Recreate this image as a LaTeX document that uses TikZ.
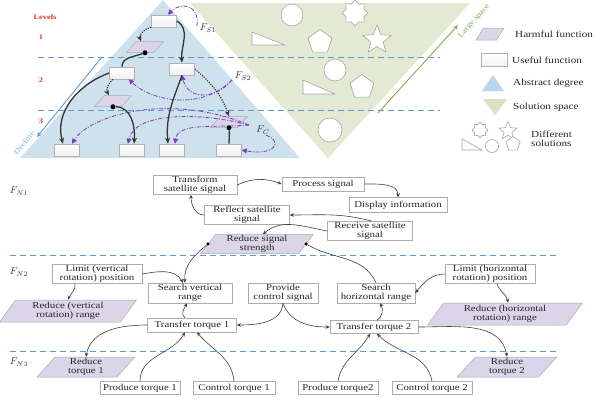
\documentclass[tikz,border=0pt]{standalone}
\usepackage{fontspec}
\setmainfont{Liberation Serif}[FakeStretch=1.2]
\usetikzlibrary{shapes.geometric,arrows.meta,calc}
\definecolor{bluetri}{HTML}{D0E1EE}
\definecolor{bluelg}{HTML}{BBD5EA}
\definecolor{greentri}{HTML}{E3E9D3}
\definecolor{greenlg}{HTML}{D9E2C4}
\definecolor{dashblue}{HTML}{5B9BD5}
\definecolor{purp}{HTML}{7A3DB8}
\definecolor{hfill}{HTML}{DCD5E9}
\definecolor{lvred}{HTML}{E8322B}
\definecolor{lsgreen}{HTML}{8CAA55}
\tikzset{
 fb/.style={draw=gray!65, fill=white, rectangle, align=center, inner sep=1pt, font=\fontsize{9}{9}\selectfont, text=black!85, line width=0.5pt},
 hb/.style={trapezium, trapezium left angle=60, trapezium right angle=120, trapezium stretches=true, draw=gray!65, fill=hfill, align=center, inner sep=1pt, font=\fontsize{9}{9}\selectfont, text=black!85, line width=0.5pt},
 sb/.style={rectangle, draw=gray!60, top color=white, bottom color=gray!12, minimum width=25pt, minimum height=12pt, inner sep=0pt, line width=0.6pt},
 hsmall/.style={hb, minimum width=37pt, minimum height=11pt, inner sep=1.5pt},
 cn/.style={draw=black!75, line width=0.6pt, -{Stealth[length=4pt,width=3.5pt]}},
 cnl/.style={draw=black!75, line width=0.6pt},
 thk/.style={draw=black!80, line width=1.3pt, -{Stealth[length=6pt,width=5pt]}},
 thkl/.style={draw=black!80, line width=1.3pt},
 dtd/.style={draw=black!80, line width=1.1pt, dash pattern=on 1.2pt off 1.2pt, -{Stealth[length=6pt,width=5pt]}},
 pp/.style={draw=purp, line width=0.8pt, dash pattern=on 4pt off 1.5pt on 1pt off 1.5pt, -{Triangle[length=5pt,width=5pt]}},
 bdot/.style={circle, fill=black, inner sep=0pt, minimum size=5pt},
 sdot/.style={circle, fill=black, inner sep=0pt, minimum size=3.5pt},
 lvl/.style={text=lvred, font=\bfseries\fontsize{7}{8}\selectfont},
 leg/.style={anchor=west, font=\fontsize{9.3}{9.5}\selectfont, text=black!85, inner sep=0pt},
 shp/.style={draw=gray!70, fill=white, line width=0.6pt, inner sep=0pt},
 flab/.style={font=\fontsize{10}{10}\selectfont, text=black!80},
 sdash/.style={draw=dashblue, line width=0.8pt, dash pattern=on 6pt off 4pt},
}
\begin{document}
\begin{tikzpicture}[x=1pt,y=1pt]
\useasboundingbox (0,0) rectangle (600,-400);
\fill[white] (0,0) rectangle (600,-400);
% ===== top part =====
\fill[greentri] (190,-3) -- (470,-3) -- (328,-158) -- cycle;
\fill[bluetri] (163,0) -- (300,-158) -- (20,-158) -- cycle;
\draw[sdash] (38,-57) -- (440,-57);
\draw[sdash] (38,-110) -- (440,-110);
% levels
\node[lvl] (lv0) at (45,-17) {Levels};
\node[lvl] (lv1) at (41,-37) {1};
\node[lvl] (lv2) at (41,-80) {2};
\node[lvl] (lv3) at (41,-121) {3};
% decline arrow
\coordinate (da) at (102,-57);
\coordinate (db) at (37,-137);
\draw[draw=dashblue, line width=0.9pt, -{Stealth[length=5pt,width=4pt]}] (da) -- (db);
\node[text=dashblue!80, font=\fontsize{7.5}{8}\selectfont, rotate=51] (dtx) at (24,-143) {Decline};
% large space arrow
\coordinate (la) at (378,-113);
\coordinate (lb) at (458,-25);
\draw[draw=lsgreen, line width=0.9pt, -{Stealth[length=5pt,width=4pt]}] (la) -- (lb);
\node[text=lsgreen, font=\fontsize{7.5}{8}\selectfont, rotate=48] (ltx) at (474,-21) {Large space};
% solution shapes
\node[shp, circle, minimum size=22pt] (sc1) at (292,-15) {};
\draw[shp] (252,-32) -- (252,-45) -- (285,-45) -- cycle;
\node[shp, star, star points=8, star point ratio=1.35, minimum size=26pt] (ss1) at (355,-13) {};
\node[shp, regular polygon, regular polygon sides=5, minimum size=25pt] (sp1) at (320,-42) {};
\node[shp, star, star points=5, star point ratio=2.3, minimum size=30pt] (ss2) at (377,-40) {};
\node[shp, circle, minimum size=22pt] (sc2) at (335,-70) {};
\draw[shp] (303,-80) -- (303,-94) -- (335,-94) -- cycle;
\node[shp, regular polygon, regular polygon sides=5, minimum size=25pt] (sp2) at (362,-87) {};
\node[shp, circle, minimum size=24pt] (sc3) at (330,-130) {};
% function nodes top
\node[sb] (u0) at (164,-21) {};
\node[hsmall] (h1) at (145,-47) {};
\node[sb] (u2a) at (122,-73) {};
\node[sb] (u2b) at (182,-69) {};
\node[hsmall] (h2) at (113,-101) {};
\node[hsmall] (h3) at (229,-122) {};
\node[sb] (b1) at (67,-150) {};
\node[sb] (b2) at (132,-150) {};
\node[sb] (b3) at (172,-150) {};
\node[sb] (b4) at (229,-150) {};
% purple
\coordinate (s1) at (197,-26);
\coordinate (s2) at (232,-80);
\coordinate (s3) at (249,-125);
\coordinate (s4) at (266,-135);
\draw[pp] (s1) .. controls (200,-4) and (180,-2) .. ($(u0.north)+(4,0)$);
\draw[pp] (s2) .. controls (200,-112) and (150,-100) .. ($(u2a.south east)+(-6,0)$);
\draw[pp] (s2) .. controls (215,-100) and (188,-100) .. (u2b.south);
\draw[pp] (s3) .. controls (170,-92) and (90,-115) .. ($(b1.north)+(5,0)$);
\draw[pp] (s3) .. controls (200,-112) and (135,-112) .. ($(b2.north)+(-4,0)$);
\draw[pp] (s3) .. controls (215,-128) and (178,-122) .. ($(b3.north)+(3,0)$);
\draw[pp] (s4) .. controls (285,-143) and (272,-156) .. (b4.east);
% black connectors top
\node[bdot] (hd1) at (h1.south) {};
\node[bdot] (hd2) at (h2.south) {};
\node[bdot] (hd3) at (h3.south) {};
\draw[thk] (u0.east) to[out=-30,in=95] (u2b.north);
\draw[dtd] (u0.south west) to[out=190,in=110] ($(h1.north)+(-4,0)$);
\draw[thkl] (hd1) to[out=200,in=90] (u2a.north);
\draw[thk] (u2a.west) to[out=200,in=105] ($(b1.north)+(-4,0)$);
\draw[dtd] ($(u2a.south)+(-9,0)$) to[out=220,in=120] ($(h2.north)+(-4,0)$);
\draw[thk] (hd2) to[out=0,in=85] ($(b2.north)+(2,0)$);
\draw[thk] (u2b.south) to[out=-110,in=95] ($(b3.north)+(-4,0)$);
\draw[dtd] (u2b.east) to[out=-40,in=110] (h3.north);
\draw[thkl] (hd3) to[out=-85,in=90] (b4.north);
% F labels top
\node[flab] (fs1) at (208,-28) {$F_{S1}$};
\node[flab] (fs2) at (243,-76) {$F_{S2}$};
\node[flab] (fs3) at (263,-130) {$F_{C}$};
% legend
\node[hsmall, minimum width=28pt, minimum height=12pt] (lg1) at (490,-34) {};
\node[leg] (lt1) at (515,-34) {Harmful function};
\node[sb, minimum width=26pt, minimum height=13pt] (lg2) at (494,-60) {};
\node[leg] (lt2) at (512,-60) {Useful function};
\fill[bluelg] (482,-91) -- (504,-91) -- (493,-75) -- cycle;
\node[leg] (lt3) at (513,-83) {Abstract degree};
\fill[greenlg] (483,-99) -- (507,-99) -- (495,-115) -- cycle;
\node[leg] (lt4) at (513,-107) {Solution space};
\node[shp, star, star points=8, star point ratio=1.35, minimum size=16pt] (lg5) at (480,-130) {};
\node[shp, star, star points=5, star point ratio=2.3, minimum size=19pt] (lg6) at (508,-131) {};
\draw[shp] (462,-139) -- (462,-150) -- (482,-150) -- cycle;
\node[shp, circle, minimum size=13pt] (lg7) at (492,-146) {};
\node[shp, regular polygon, regular polygon sides=5, minimum size=15pt] (lg8) at (513,-144) {};
\node[leg, align=left] (lt5) at (531,-139) {Different\\solutions};
% ===== bottom part =====
\draw[sdash] (10,-255) -- (557,-255);
\draw[sdash] (10,-351) -- (557,-351);
\node[flab] (fn1) at (19,-191) {$F_{N1}$};
\node[flab] (fn2) at (19,-272) {$F_{N2}$};
\node[flab] (fn3) at (19,-362) {$F_{N3}$};
\node[fb, minimum width=84pt, minimum height=18pt] (ts) at (195,-185) {Transform\\satellite signal};
\node[fb, minimum width=82pt, minimum height=14pt] (ps) at (323,-184) {Process signal};
\node[fb, minimum width=98pt, minimum height=15pt] (di) at (398,-205) {Display information};
\node[fb, minimum width=85pt, minimum height=19pt] (rf) at (247,-215) {Reflect satellite\\signal};
\node[fb, minimum width=85pt, minimum height=18pt] (rc) at (370,-231) {Receive satellite\\signal};
\node[hb, minimum width=113pt, minimum height=17pt] (rs) at (257,-244) {Reduce signal\\strength};
\node[fb, minimum width=90pt, minimum height=18pt] (lv) at (97,-274) {Limit (vertical\\rotation) position};
\node[fb, minimum width=90pt, minimum height=19pt] (lh) at (490,-274) {Limit (horizontal\\rotation) position};
\node[fb, minimum width=84pt, minimum height=20pt] (sv) at (190,-293) {Search vertical\\range};
\node[fb, minimum width=70pt, minimum height=20pt] (pc) at (283,-293) {Provide\\control signal};
\node[fb, minimum width=78pt, minimum height=20pt] (sh) at (376,-293) {Search\\horizontal range};
\node[hb, minimum width=137pt, minimum height=22pt] (rv) at (68,-311) {Reduce (vertical\\rotation) range};
\node[hb, minimum width=155pt, minimum height=22pt] (rh) at (505,-314) {Reduce (horizontal\\rotation) range};
\node[fb, minimum width=89pt, minimum height=14pt] (t1) at (192,-325) {Transfer torque 1};
\node[fb, minimum width=88pt, minimum height=13pt] (t2) at (374,-327) {Transfer torque 2};
\node[hb, minimum width=98pt, minimum height=20pt] (r1) at (86,-367) {Reduce\\torque 1};
\node[hb, minimum width=100pt, minimum height=20pt] (r2) at (507,-367) {Reduce\\torque 2};
\node[fb, minimum width=80pt, minimum height=13pt] (p1) at (140,-388) {Produce torque 1};
\node[fb, minimum width=82pt, minimum height=13pt] (c1) at (234,-388) {Control torque 1};
\node[fb, minimum width=80pt, minimum height=13pt] (p2) at (338,-388) {Produce torque2};
\node[fb, minimum width=80pt, minimum height=13pt] (c2) at (432,-388) {Control torque 2};
% bottom connectors
\draw[cn] (ts.east) to[out=25,in=160] (ps.west);
\draw[cn] (ps.east) to[out=0,in=90] (di.north);
\draw[cn] (rf.west) to[out=180,in=-90] ($(ts.south)+(-4,0)$);
\draw[cn] ($(rc.north)+(2,0)$) to[out=165,in=0] (rf.east);
\draw[cn] (rc.west) to[out=170,in=40] ($(rs.north)+(6,0)$);
\node[sdot] (dl) at (rs.west) {};
\node[sdot] (dr) at (rs.east) {};
\draw[cn] (dl) to[out=220,in=95] ($(sv.north)+(-5,0)$);
\draw[cnl] (sh.north) to[out=115,in=-30] (dr);
\draw[cn] (lv.east) to[out=10,in=120] ($(sv.north)+(-7,0)$);
\draw[cn] ($(lv.south)+(-22,0)$) to[out=-80,in=70] (rv.north);
\draw[cn] (lh.west) to[out=180,in=50] (sh.east);
\draw[cn] ($(lh.south)+(7,0)$) to[out=-70,in=100] ($(rh.north)+(3,0)$);
\draw[cn] ($(t1.north)+(-7,0)$) to[out=150,in=-120] ($(sv.south)+(-3,0)$);
\draw[cn] ($(t2.north)+(3,0)$) to[out=30,in=-60] ($(sh.south)+(4,0)$);
\draw[cn] (pc.south) to[out=-95,in=0] (t1.east);
\draw[cn] (pc.south) to[out=-70,in=180] (t2.west);
\draw[cn] (t1.west) to[out=180,in=80] (r1.north);
\draw[cn] (t2.east) to[out=0,in=100] (r2.north);
\draw[cn] (p1.north) to[out=90,in=-120] ($(t1.south)+(-7,0)$);
\draw[cn] (c1.north) to[out=95,in=-50] ($(t1.south)+(5,0)$);
\draw[cn] (p2.north) to[out=80,in=-120] ($(t2.south)+(-4,0)$);
\draw[cn] (c2.north) to[out=100,in=-45] ($(t2.south)+(3,0)$);
\end{tikzpicture}
\end{document}
